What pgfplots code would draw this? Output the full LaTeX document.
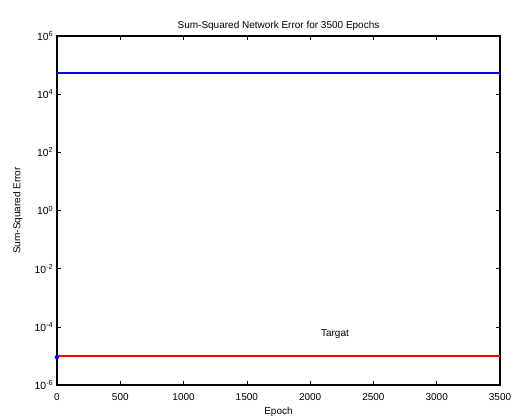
\documentclass[border=0pt]{standalone}
\usepackage{fontspec}
\setmainfont{Liberation Sans}
\usepackage{pgfplots}
\pgfplotsset{compat=1.18}
\definecolor{mblue}{RGB}{0,0,255}
\definecolor{mred}{RGB}{255,0,0}
\begin{document}
\fontsize{7.5}{9}\selectfont
\begin{tikzpicture}
\path (-42.75pt,-25.5pt) rectangle (344.25pt,288.75pt);
\begin{axis}[
  scale only axis,
  width=332.25pt, height=261.75pt,
  ymode=log,
  xmin=0, xmax=3500, ymin=1e-6, ymax=1e6,
  xtick={0,500,1000,1500,2000,2500,3000,3500},
  /pgf/number format/assume math mode=true,
  xticklabel style={font=\fontsize{7.5}{9}\selectfont, yshift=-3.5pt},
  scaled x ticks=false,
  xticklabel={\pgfmathprintnumber[fixed,1000 sep={}]{\tick}},
  ytick={1e-6,1e-4,1e-2,1,1e2,1e4,1e6},
  yticklabels={10\textsuperscript{-6},10\textsuperscript{-4},10\textsuperscript{-2},10\textsuperscript{0},10\textsuperscript{2},10\textsuperscript{4},10\textsuperscript{6}},
  yticklabel style={font=\fontsize{7.8}{9}\selectfont},
  minor tick num=0,
  yminorticks=false,
  tick align=inside,
  major tick length=3pt,
  axis line style={line width=1pt},
  tick style={black, line width=0.5pt},
  title={Sum-Squared Network Error for 3500 Epochs},
  title style={font=\fontsize{7.5}{9}\selectfont, yshift=-4.5pt},
  xlabel={Epoch},
  ylabel={Sum-Squared Error},
  xlabel style={font=\fontsize{7.5}{9}\selectfont, yshift=0pt},
  ylabel style={font=\fontsize{7.5}{9}\selectfont, yshift=4pt},
  clip=false,
]
\addplot[draw=mblue, solid, line width=1.4pt] coordinates {(0,5.2e4) (1750,5.2e4) (3500,5.2e4)};
\addplot[draw=mred, solid, line width=1.4pt] coordinates {(0,1e-5) (1750,1e-5) (3500,1e-5)};
\addplot[only marks, mark=*, mark size=1.5pt, mblue] coordinates {(0,9e-6)};
\node[font=\fontsize{7.5}{9}\selectfont] at (axis cs:2196,5.6e-5) {Targat};
\end{axis}
\end{tikzpicture}
\end{document}
